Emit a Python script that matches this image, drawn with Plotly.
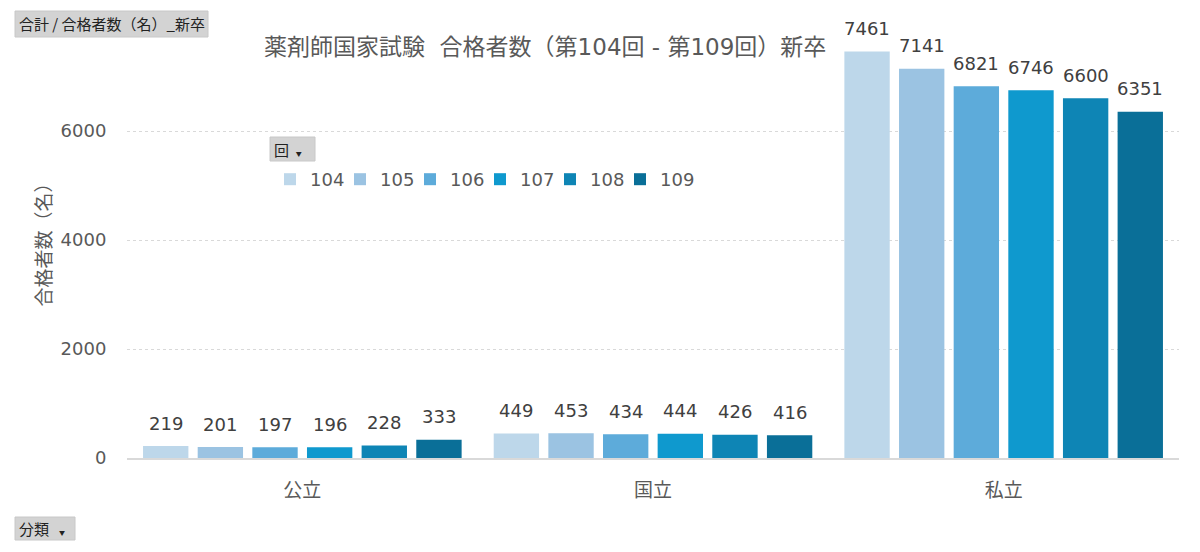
import plotly.graph_objects as go

# --- data ---
categories = ["公立", "国立", "私立"]
rounds = ["104", "105", "106", "107", "108", "109"]
passed_104 = [219, 449, 7461]
passed_105 = [201, 453, 7141]
passed_106 = [197, 434, 6821]
passed_107 = [196, 444, 6746]
passed_108 = [228, 426, 6600]
passed_109 = [333, 416, 6351]
series = [passed_104, passed_105, passed_106, passed_107, passed_108, passed_109]
colors = ["#BDD7EA", "#9BC3E2", "#5DABDA", "#0F99CE", "#0E85B5", "#0A6F98"]

FONT = "DejaVu Sans, Noto Sans CJK JP, sans-serif"
TXT = "#595959"

# page body adds an 8px offset, so the figure is drawn 8px smaller
OFF = 8
W, H = 1200 - OFF, 552 - OFF
# plot area in screen pixels
L, R, T, B = 127, 1179, 22, 458
PW, PH = R - L, B - T

def px(x):
    return (x - L) / PW

def py(y):
    return 1 - (y - T) / PH

fig = go.Figure()
for name, vals, col in zip(rounds, series, colors):
    fig.add_trace(go.Bar(
        x=categories, y=vals, name=name,
        marker=dict(color=col, line=dict(width=0)),
        hoverinfo="x+y+name",
    ))
# blank legend slot so the last entry is not clipped
fig.add_trace(go.Scatter(x=[None], y=[None], mode="markers", name=" ",
                         marker=dict(color="rgba(0,0,0,0)"), hoverinfo="skip"))

bargap, groupgap = 0.065, 0.17
step = PW / 3 * (1 - bargap) / 6

# data labels above each bar
for i, vals in enumerate(series):
    for cat, v in zip(categories, vals):
        fig.add_annotation(
            x=cat, y=v, text=str(v), showarrow=False,
            xshift=(i - 2.5) * step, yshift=23, yanchor="middle",
            font=dict(size=18, color="#404040", family=FONT),
        )

fig.update_layout(
    width=W, height=H,
    paper_bgcolor="white", plot_bgcolor="white",
    font=dict(family=FONT, color=TXT),
    margin=dict(l=L - OFF, r=W - (R - OFF), t=T - OFF, b=H - (B - OFF), autoexpand=False),
    barmode="group", bargap=bargap, bargroupgap=groupgap,
    showlegend=True,
    legend=dict(
        orientation="h", x=px(270), y=py(161), xanchor="left", yanchor="top",
        font=dict(size=18, color=TXT, family=FONT),
        entrywidth=25, entrywidthmode="pixels",
        itemclick=False, bgcolor="rgba(0,0,0,0)",
    ),
    xaxis=dict(
        showgrid=False, showline=True, linecolor="#d9d9d9", linewidth=1.5,
        ticks="outside", ticklen=14, tickcolor="rgba(0,0,0,0)",
        tickfont=dict(size=19, color=TXT, family=FONT),
    ),
    yaxis=dict(
        range=[0, 8000], tickvals=[0, 2000, 4000, 6000, 8000],
        ticktext=["0", "2000", "4000", "6000", ""],
        showgrid=True, gridcolor="#d9d9d9", griddash="dot", gridwidth=1,
        zeroline=False, showline=False,
        ticks="outside", ticklen=16, tickcolor="rgba(0,0,0,0)",
        tickfont=dict(size=18, color=TXT, family=FONT),
        title=dict(text="合格者数（名）", font=dict(size=19, color=TXT, family=FONT), standoff=3),
    ),
)

# chart title
fig.add_annotation(
    xref="paper", yref="paper", x=px(545), y=py(47),
    text="薬剤師国家試験  合格者数（第104回 - 第109回）新卒",
    showarrow=False, xanchor="center", yanchor="middle",
    font=dict(size=23, color=TXT, family=FONT),
)

# pivot field buttons
def button(x0, y0, x1, y1, label, size=15):
    fig.add_shape(type="rect", xref="paper", yref="paper",
                  x0=px(x0), x1=px(x1), y0=py(y1), y1=py(y0),
                  fillcolor="#d3d3d3", line=dict(color="#c8c8c8", width=1), layer="above")
    fig.add_annotation(xref="paper", yref="paper",
                       x=px(x0 + 2), y=py((y0 + y1) / 2),
                       text=label, showarrow=False, xanchor="left", yanchor="middle",
                       font=dict(size=size, color="#222222", family="Noto Sans CJK JP"))

button(15, 11, 208, 37, "合計 / 合格者数（名）_新卒")
button(15, 517, 75, 540, "分類   <span style='font-size:6px'>▼</span>")
button(270, 137, 315, 161, "回  <span style='font-size:6px'>▼</span>")

fig.write_html("out.html")
